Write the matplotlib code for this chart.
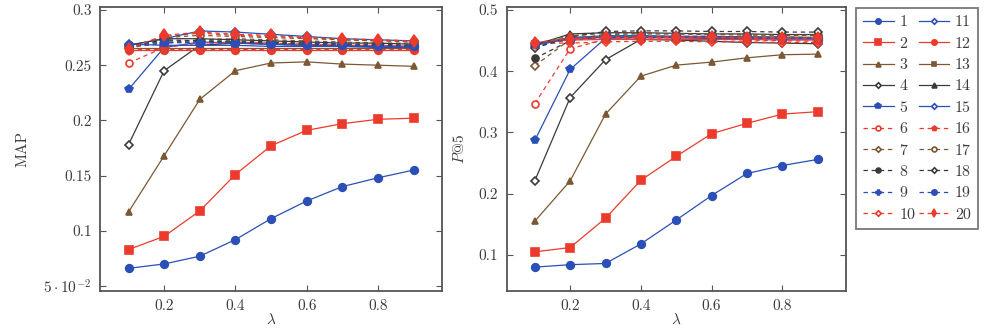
import matplotlib
matplotlib.use("Agg")
import matplotlib.pyplot as plt

plt.rcParams['font.family'] = 'serif'
plt.rcParams['font.serif'] = ['cmr10', 'DejaVu Serif']
plt.rcParams['mathtext.fontset'] = 'cm'
plt.rcParams['axes.formatter.use_mathtext'] = True

lam = [0.1, 0.2, 0.3, 0.4, 0.5, 0.6, 0.7, 0.8, 0.9]
labels = [str(i) for i in range(1, 21)]

map_vals = [
    [0.066, 0.070, 0.077, 0.092, 0.111, 0.127, 0.140, 0.148, 0.155],
    [0.083, 0.095, 0.118, 0.151, 0.177, 0.191, 0.197, 0.201, 0.202],
    [0.117, 0.168, 0.219, 0.245, 0.252, 0.253, 0.251, 0.250, 0.249],
    [0.178, 0.245, 0.268, 0.270, 0.269, 0.268, 0.267, 0.267, 0.266],
    [0.228, 0.266, 0.271, 0.270, 0.269, 0.268, 0.268, 0.267, 0.267],
    [0.252, 0.266, 0.270, 0.271, 0.270, 0.269, 0.268, 0.268, 0.267],
    [0.266, 0.270, 0.273, 0.274, 0.273, 0.272, 0.271, 0.270, 0.270],
    [0.267, 0.272, 0.272, 0.272, 0.271, 0.270, 0.269, 0.269, 0.268],
    [0.267, 0.270, 0.271, 0.271, 0.270, 0.270, 0.269, 0.268, 0.268],
    [0.266, 0.276, 0.279, 0.277, 0.276, 0.275, 0.273, 0.272, 0.271],
    [0.268, 0.274, 0.281, 0.280, 0.278, 0.276, 0.274, 0.273, 0.272],
    [0.264, 0.264, 0.264, 0.264, 0.264, 0.264, 0.264, 0.264, 0.264],
    [0.266, 0.266, 0.266, 0.266, 0.266, 0.266, 0.266, 0.266, 0.266],
    [0.268, 0.274, 0.274, 0.273, 0.272, 0.271, 0.270, 0.270, 0.269],
    [0.269, 0.268, 0.268, 0.268, 0.267, 0.267, 0.267, 0.266, 0.266],
    [0.265, 0.265, 0.265, 0.265, 0.265, 0.265, 0.265, 0.265, 0.265],
    [0.266, 0.275, 0.277, 0.276, 0.275, 0.274, 0.273, 0.272, 0.272],
    [0.267, 0.273, 0.272, 0.271, 0.270, 0.269, 0.268, 0.268, 0.267],
    [0.268, 0.271, 0.270, 0.270, 0.269, 0.268, 0.268, 0.267, 0.267],
    [0.265, 0.277, 0.280, 0.278, 0.277, 0.275, 0.274, 0.273, 0.272],
]

p5_vals = [
    [0.080, 0.084, 0.086, 0.118, 0.157, 0.197, 0.233, 0.246, 0.256],
    [0.105, 0.112, 0.160, 0.222, 0.261, 0.298, 0.315, 0.330, 0.334],
    [0.155, 0.221, 0.330, 0.392, 0.410, 0.415, 0.422, 0.427, 0.428],
    [0.221, 0.357, 0.419, 0.452, 0.451, 0.449, 0.447, 0.446, 0.445],
    [0.287, 0.403, 0.454, 0.455, 0.455, 0.454, 0.454, 0.453, 0.453],
    [0.347, 0.437, 0.452, 0.453, 0.452, 0.452, 0.451, 0.450, 0.449],
    [0.409, 0.452, 0.460, 0.461, 0.461, 0.460, 0.459, 0.459, 0.458],
    [0.421, 0.450, 0.457, 0.458, 0.457, 0.457, 0.456, 0.456, 0.455],
    [0.440, 0.452, 0.455, 0.456, 0.456, 0.455, 0.455, 0.454, 0.454],
    [0.446, 0.446, 0.448, 0.449, 0.449, 0.448, 0.448, 0.447, 0.447],
    [0.444, 0.455, 0.458, 0.458, 0.457, 0.457, 0.456, 0.456, 0.455],
    [0.447, 0.451, 0.452, 0.452, 0.452, 0.452, 0.452, 0.451, 0.451],
    [0.445, 0.455, 0.456, 0.456, 0.456, 0.455, 0.455, 0.455, 0.454],
    [0.443, 0.461, 0.463, 0.463, 0.462, 0.461, 0.461, 0.460, 0.460],
    [0.442, 0.454, 0.455, 0.455, 0.455, 0.454, 0.454, 0.453, 0.453],
    [0.446, 0.454, 0.455, 0.455, 0.455, 0.455, 0.454, 0.454, 0.454],
    [0.445, 0.458, 0.462, 0.462, 0.461, 0.461, 0.460, 0.459, 0.459],
    [0.438, 0.456, 0.465, 0.466, 0.466, 0.465, 0.465, 0.464, 0.464],
    [0.445, 0.453, 0.457, 0.457, 0.457, 0.456, 0.456, 0.455, 0.455],
    [0.447, 0.453, 0.456, 0.456, 0.456, 0.456, 0.455, 0.455, 0.455],
]

BLUE = '#2b4fb6'
RED = '#ec3b2c'
BROWN = '#7c5834'
GRAY = '#3a3a3a'
W = 'white'

# (color, marker, filled, dashed, size)
styles = [
    (BLUE, 'o', True, False, 5.5),
    (RED, 's', True, False, 5.5),
    (BROWN, '^', True, False, 5.0),
    (GRAY, 'D', False, False, 4.0),
    (BLUE, 'p', True, False, 5.5),
    (RED, 'o', False, True, 5.0),
    (BROWN, 'D', False, True, 4.0),
    (GRAY, 'o', True, True, 5.0),
    (BLUE, 'P', True, True, 5.0),
    (RED, 'D', False, True, 4.0),
    (BLUE, 'D', False, False, 4.0),
    (RED, 'o', True, False, 5.5),
    (BROWN, 's', True, False, 5.0),
    (GRAY, '^', True, False, 5.0),
    (BLUE, 'D', False, False, 4.0),
    (RED, 'p', True, True, 5.0),
    (BROWN, 'o', False, True, 5.0),
    (GRAY, 'D', False, True, 4.0),
    (BLUE, 'o', True, True, 5.5),
    (RED, 'd', True, True, 6.0),
]

fig = plt.figure(figsize=(9.86, 3.29), dpi=100)
ax1 = fig.add_axes([100/986, 1-291/329, 342/986, 284/329])
ax2 = fig.add_axes([506.5/986, 1-291/329, 339.5/986, 284/329])

handles = []
for ax, vals in ((ax1, map_vals), (ax2, p5_vals)):
    hs = []
    for i, (c, m, filled, dashed, ms) in enumerate(styles):
        h, = ax.plot(lam, vals[i], color=c, marker=m, markersize=ms,
                     markerfacecolor=(c if filled else W), markeredgecolor=c,
                     markeredgewidth=1.2, linewidth=0.9,
                     linestyle=(0, (3.5, 3)) if dashed else '-',
                     label=labels[i])
        hs.append(h)
    handles = hs

SP = '#555555'
TXT = '#3c3c3c'
for ax in (ax1, ax2):
    ax.set_xlim(0.02, 0.98)
    ax.set_xticks([0.2, 0.4, 0.6, 0.8])
    ax.set_xticklabels(['0.2', '0.4', '0.6', '0.8'])
    ax.tick_params(direction='in', top=True, right=True, length=4, width=0.8,
                   color=SP, labelcolor=TXT, labelsize=11, pad=6)
    for s in ax.spines.values():
        s.set_color(SP)
        s.set_linewidth(1.3)
    ax.set_xlabel(r'$\lambda$', fontsize=11, color=TXT, va='bottom')
    ax.xaxis.set_label_coords(0.5, -0.125)

ax1.set_ylim(0.0455, 0.3027)
ax1.set_yticks([0.05, 0.1, 0.15, 0.2, 0.25, 0.3])
ax1.set_yticklabels([r'$5\cdot10^{-2}$', '0.1', '0.15', '0.2', '0.25', '0.3'])
ax1.set_ylabel('MAP', fontsize=11, color=TXT, labelpad=10)

ax2.set_ylim(0.041, 0.505)
ax2.set_yticks([0.1, 0.2, 0.3, 0.4, 0.5])
ax2.set_yticklabels(['0.1', '0.2', '0.3', '0.4', '0.5'])
ax2.set_ylabel(r'$P$@5', fontsize=11, color=TXT, labelpad=8)

leg = fig.legend(handles=handles, ncol=2, loc='upper left',
                 bbox_to_anchor=(856/986, 1-8/329), borderaxespad=0,
                 fontsize=11.5, frameon=True, fancybox=False, edgecolor=SP,
                 handlelength=1.9, handletextpad=0.35, columnspacing=0.25,
                 labelspacing=0.45, markerscale=0.7, borderpad=0.45)
leg.get_frame().set_linewidth(1.3)
for t in leg.get_texts():
    t.set_color(TXT)

fig.savefig('out.png', dpi=100)
